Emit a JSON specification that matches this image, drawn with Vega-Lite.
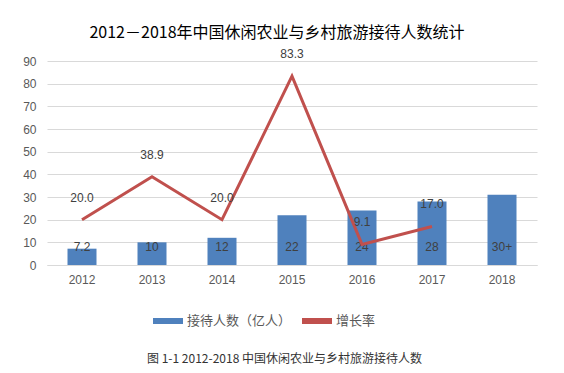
{
  "$schema": "https://vega.github.io/schema/vega-lite/v6.json",
  "autosize": {"type": "none"},
  "width": 490,
  "height": 204,
  "padding": {"left": 47, "top": 61, "right": 27, "bottom": 108},
  "background": "white",
  "title": {
    "text": "2012－2018年中国休闲农业与乡村旅游接待人数统计",
    "font": "Noto Sans CJK SC",
    "fontSize": 16,
    "fontWeight": "normal",
    "color": "#000000",
    "anchor": "middle",
    "frame": "group",
    "dx": -15,
    "offset": 7
  },
  "data": {
    "values": [
      {"year": "2012", "visitors": 7.2, "label": "7.2", "growth": 20.0},
      {"year": "2013", "visitors": 10, "label": "10", "growth": 38.9},
      {"year": "2014", "visitors": 12, "label": "12", "growth": 20.0},
      {"year": "2015", "visitors": 22, "label": "22", "growth": 83.3},
      {"year": "2016", "visitors": 24, "label": "24", "growth": 9.1},
      {"year": "2017", "visitors": 28, "label": "28", "growth": 17.0},
      {"year": "2018", "visitors": 31, "label": "30+", "growth": null}
    ]
  },
  "encoding": {
    "x": {
      "field": "year",
      "type": "ordinal",
      "scale": {"paddingInner": 0, "paddingOuter": 0},
      "axis": {
        "labelAngle": 0,
        "labelFont": "Liberation Sans",
        "labelFontSize": 12,
        "labelColor": "#595959",
        "labelPadding": 9,
        "ticks": false,
        "domainColor": "#d9d9d9",
        "title": "图 1-1 2012-2018 中国休闲农业与乡村旅游接待人数",
        "titleFont": "Noto Sans CJK SC",
        "titleFontSize": 12,
        "titleFontWeight": "normal",
        "titleColor": "#333333",
        "titleY": 88,
        "titleX": 237,
        "titleAnchor": "middle",
        "titleBaseline": "top",
        "titleAlign": "center"
      }
    }
  },
  "layer": [
    {
      "mark": {"type": "bar", "size": 29},
      "encoding": {
        "y": {
          "field": "visitors",
          "type": "quantitative",
          "scale": {"domain": [0, 90]},
          "axis": {
            "title": null,
            "values": [0, 10, 20, 30, 40, 50, 60, 70, 80, 90],
            "tickCount": 10,
            "labelOverlap": false,
            "domain": false,
            "ticks": false,
            "labelPadding": 11,
            "labelFont": "Liberation Sans",
            "labelFontSize": 12,
            "labelColor": "#595959",
            "gridColor": "#d9d9d9"
          }
        },
        "color": {
          "datum": "接待人数（亿人）",
          "type": "nominal",
          "scale": {"domain": ["接待人数（亿人）", "增长率"], "range": ["#4f81bd", "#c0504d"]},
          "legend": {
            "title": null,
            "orient": "none",
            "direction": "horizontal",
            "legendX": 106,
            "legendY": 245,
            "symbolType": "M-1,-0.2H1V0.2H-1Z",
            "symbolSize": 900,
            "symbolStrokeWidth": 0,
            "labelFont": "Noto Sans CJK SC",
            "labelFontSize": 13,
            "labelColor": "#595959",
            "columnPadding": 10,
            "labelOffset": 4
          }
        }
      }
    },
    {
      "mark": {"type": "text", "baseline": "middle", "dy": -18, "font": "Liberation Sans", "fontSize": 12, "color": "#404040"},
      "encoding": {
        "y": {"datum": 0, "type": "quantitative"},
        "text": {"field": "label"}
      }
    },
    {
      "transform": [{"filter": "datum.growth != null"}],
      "mark": {"type": "line", "strokeWidth": 3, "color": "#c0504d"},
      "encoding": {
        "y": {"field": "growth", "type": "quantitative"},
        "color": {"datum": "增长率", "type": "nominal"}
      }
    },
    {
      "transform": [{"filter": "datum.growth != null"}],
      "mark": {"type": "text", "baseline": "middle", "dy": -22, "font": "Liberation Sans", "fontSize": 12, "color": "#404040"},
      "encoding": {
        "y": {"field": "growth", "type": "quantitative"},
        "text": {"field": "growth", "format": ".1f"}
      }
    }
  ],
  "config": {"view": {"stroke": null}}
}
